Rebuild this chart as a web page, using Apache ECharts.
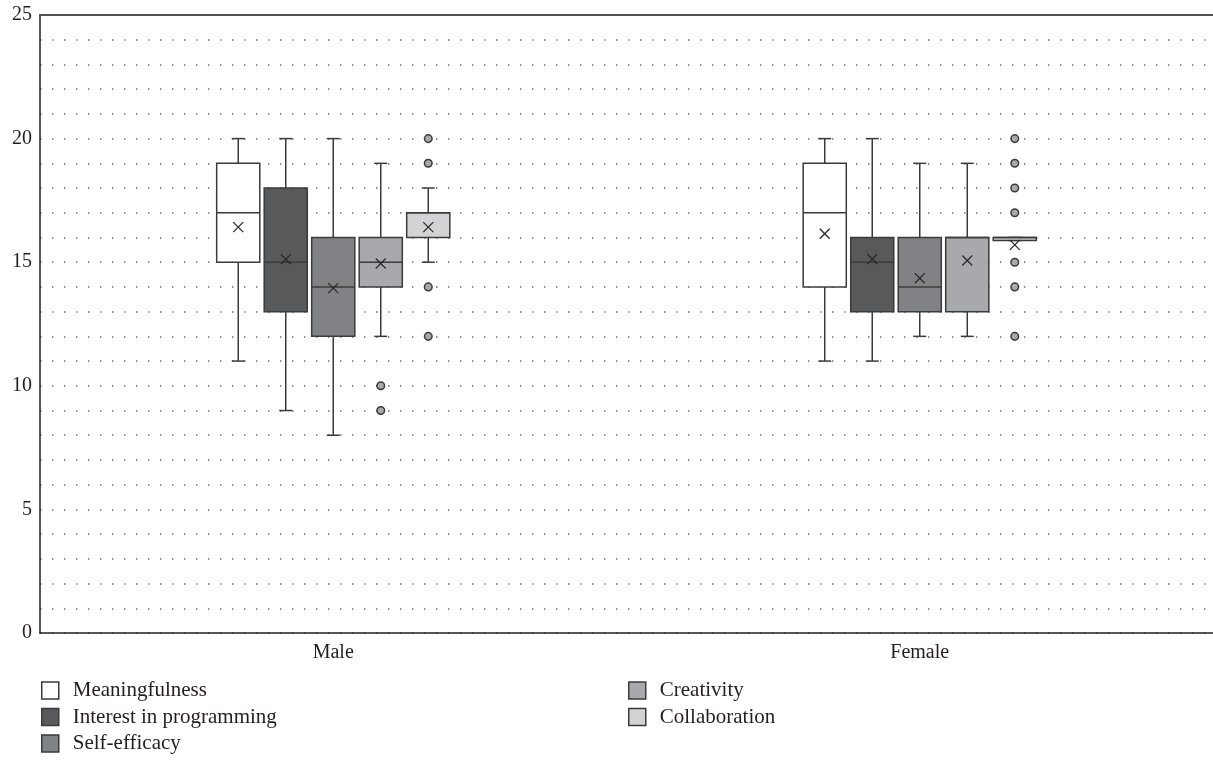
<!DOCTYPE html>
<html>
<head>
<meta charset="utf-8">
<script src="https://cdn.jsdelivr.net/npm/echarts@6/dist/echarts.min.js"></script>
<style>
html,body{margin:0;padding:0;background:#fff;}
#chart{width:1213px;height:761px;}
</style>
</head>
<body>
<div id="chart"></div>
<script>
// ---- Data ----
const categories = ['Male', 'Female'];
const seriesNames = ['Meaningfulness', 'Interest in programming', 'Self-efficacy', 'Creativity', 'Collaboration'];
const seriesColors = ['#ffffff', '#58595b', '#808285', '#a7a9ac', '#d1d3d4'];

// [min, Q1, median, Q3, max] per category (Male, Female)
const meaningfulness = [[11, 15, 17, 19, 20], [11, 14, 17, 19, 20]];
const interest = [[9, 13, 15, 18, 20], [11, 13, 15, 16, 20]];
const selfEfficacy = [[8, 12, 14, 16, 20], [12, 13, 14, 16, 19]];
const creativity = [[12, 14, 15, 16, 19], [12, 13, 16, 16, 19]];
const collaboration = [[15, 16, 17, 17, 18], [15.88, 15.88, 16, 16, 16]];

// means per category (Male, Female)
const meaningfulnessMean = [16.42, 16.15];
const interestMean = [15.12, 15.13];
const selfEfficacyMean = [13.95, 14.35];
const creativityMean = [14.95, 15.07];
const collaborationMean = [16.42, 15.7];

// outliers per category (Male, Female)
const meaningfulnessOut = [[], []];
const interestOut = [[], []];
const selfEfficacyOut = [[], []];
const creativityOut = [[10, 9], []];
const collaborationOut = [[20, 19, 14, 12], [20, 19, 18, 17, 15, 14, 12]];

const yTicks = [0, 5, 10, 15, 20, 25];

// ---- Build ----
const boxes = [meaningfulness, interest, selfEfficacy, creativity, collaboration];
const means = [meaningfulnessMean, interestMean, selfEfficacyMean, creativityMean, collaborationMean];
const outs = [meaningfulnessOut, interestOut, selfEfficacyOut, creativityOut, collaborationOut];

const SPACING = 0.081;   // fraction of band between box centres
const BOXW = 0.0735;     // fraction of band for box width
const CAPW = 13;
const STROKE = '#3b3b3b';
const FONT = 'Liberation Serif';
const TXT = '#231f20';

function centerX(api, cat, sIdx) {
  const band = api.size([1, 0])[0];
  return api.coord([cat, 0])[0] + (sIdx - 2) * band * SPACING;
}

function makeBoxRender(sIdx) {
  return function (params, api) {
    const cat = api.value(0);
    const band = api.size([1, 0])[0];
    const cx = centerX(api, cat, sIdx);
    const w = band * BOXW;
    const y = v => api.coord([cat, v])[1];
    const yMin = y(api.value(1)), yQ1 = y(api.value(2)), yMed = y(api.value(3)),
          yQ3 = y(api.value(4)), yMax = y(api.value(5)), yMean = y(api.value(6));
    const ls = { stroke: STROKE, lineWidth: 1.5 };
    const children = [
      { type: 'line', shape: { x1: cx, y1: yMax, x2: cx, y2: yQ3 }, style: ls },
      { type: 'line', shape: { x1: cx, y1: yQ1, x2: cx, y2: yMin }, style: ls },
      { type: 'line', shape: { x1: cx - CAPW / 2, y1: yMax, x2: cx + CAPW / 2, y2: yMax }, style: ls },
      { type: 'line', shape: { x1: cx - CAPW / 2, y1: yMin, x2: cx + CAPW / 2, y2: yMin }, style: ls },
      { type: 'rect', shape: { x: cx - w / 2, y: yQ3, width: w, height: Math.max(yQ1 - yQ3, 1) },
        style: { fill: seriesColors[sIdx], stroke: STROKE, lineWidth: 1.5 } },
      { type: 'line', shape: { x1: cx - w / 2, y1: yMed, x2: cx + w / 2, y2: yMed }, style: ls },
      { type: 'line', shape: { x1: cx - 5, y1: yMean - 5, x2: cx + 5, y2: yMean + 5 }, style: { stroke: '#2a2a2a', lineWidth: 1.3 } },
      { type: 'line', shape: { x1: cx - 5, y1: yMean + 5, x2: cx + 5, y2: yMean - 5 }, style: { stroke: '#2a2a2a', lineWidth: 1.3 } }
    ];
    return { type: 'group', children: children };
  };
}

function makeOutRender(sIdx) {
  return function (params, api) {
    const cat = api.value(0);
    const cx = centerX(api, cat, sIdx);
    const cy = api.coord([cat, api.value(1)])[1];
    return { type: 'circle', shape: { cx: cx, cy: cy, r: 3.8 },
      style: { fill: '#a7a9ac', stroke: STROKE, lineWidth: 1.5 } };
  };
}

const series = [];
seriesNames.forEach((name, s) => {
  const data = categories.map((c, ci) => [ci].concat(boxes[s][ci]).concat([means[s][ci]]));
  series.push({
    name: name, type: 'custom', renderItem: makeBoxRender(s),
    itemStyle: { color: seriesColors[s], borderColor: STROKE, borderWidth: 1.5 },
    encode: { x: 0, y: [1, 2, 3, 4, 5, 6] },
    data: data, z: 3, silent: true
  });
});
seriesNames.forEach((name, s) => {
  const data = [];
  categories.forEach((c, ci) => outs[s][ci].forEach(v => data.push([ci, v])));
  if (data.length) {
    series.push({
      name: name + ' outliers', type: 'custom', renderItem: makeOutRender(s),
      encode: { x: 0, y: 1 }, data: data, z: 4, silent: true
    });
  }
});

function legendData(idxs) {
  return idxs.map(i => ({
    name: seriesNames[i],
    itemStyle: { color: seriesColors[i], borderColor: STROKE, borderWidth: 1.5 }
  }));
}
const legendText = { fontFamily: FONT, fontSize: 21, color: TXT, lineHeight: 20, padding: [0, 0, 0, 9] };

const option = {
  animation: false,
  backgroundColor: '#fff',
  grid: { left: 40, right: 0, top: 15, bottom: 128 },
  legend: [
    { data: legendData([0, 1, 2]), orient: 'vertical', left: 41, top: 680, padding: 0, icon: 'rect',
      itemWidth: 17, itemHeight: 17, itemGap: 5.5, textStyle: legendText, selectedMode: false },
    { data: legendData([3, 4]), orient: 'vertical', left: 628, top: 680, padding: 0, icon: 'rect',
      itemWidth: 17, itemHeight: 17, itemGap: 5.5, textStyle: legendText, selectedMode: false }
  ],
  xAxis: [
    { type: 'category', data: categories, position: 'bottom',
      axisLine: { lineStyle: { color: '#231f20', width: 1.5 } },
      axisTick: { show: false },
      axisLabel: { fontFamily: FONT, fontSize: 20, color: TXT, margin: 10 },
      splitLine: { show: false } },
    { type: 'category', data: categories, position: 'top',
      axisLine: { lineStyle: { color: '#555555', width: 2 } },
      axisTick: { show: false }, axisLabel: { show: false }, splitLine: { show: false } }
  ],
  yAxis: {
    type: 'value', min: 0, max: 25, interval: 1,
    axisLine: { show: true, lineStyle: { color: '#231f20', width: 1.5 } },
    axisTick: { show: false },
    axisLabel: { fontFamily: FONT, fontSize: 20, color: TXT, margin: 8,
      formatter: v => (yTicks.indexOf(v) >= 0 ? String(v) : '') },
    splitLine: { show: true, lineStyle: { color: '#6f6f6f', width: 1.5, type: [1.5, 10.5] } }
  },
  series: series
};

const chart = echarts.init(document.getElementById('chart'), null, { renderer: 'canvas' });
chart.setOption(option);
</script>
</body>
</html>
